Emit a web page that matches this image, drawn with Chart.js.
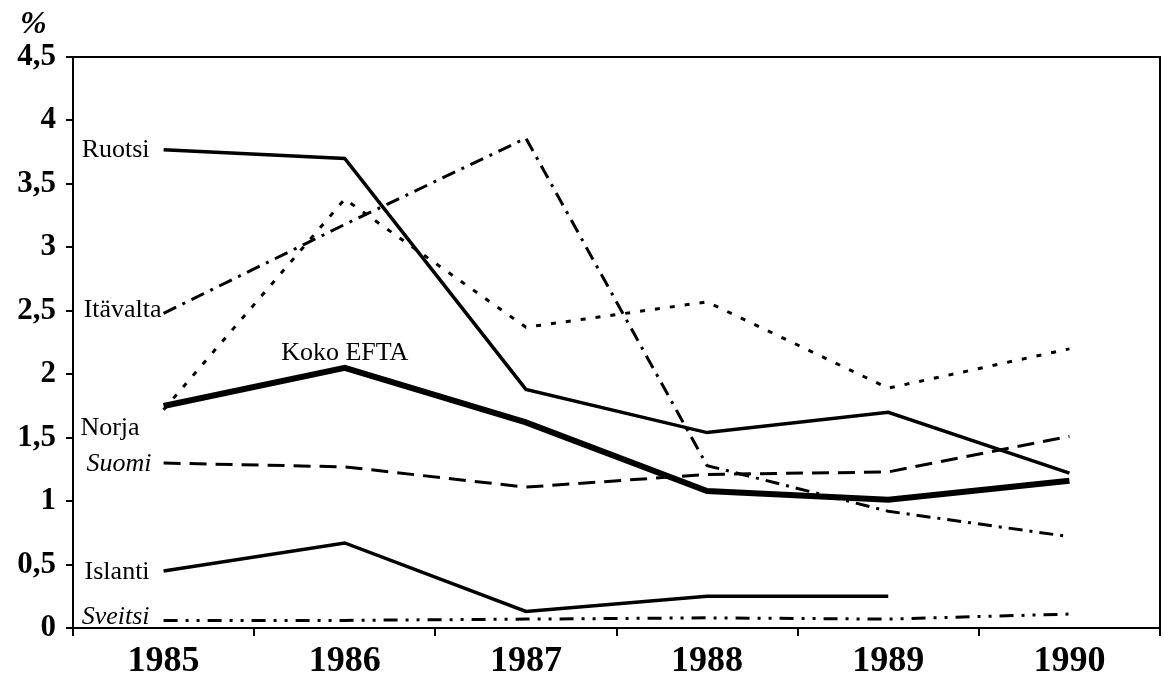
<!DOCTYPE html>
<html lang="fi">
<head>
  <meta charset="UTF-8">
  <title>EFTA-maat 1985-1990</title>
  <script src="https://cdn.jsdelivr.net/npm/chart.js"></script>
<style>
  body { margin: 0; background: #fff; }
  .chart-box { position: relative; width: 1164px; height: 685px; }
</style>
</head>
<body>
  <div class="chart-box">
    <canvas id="eftaChart"></canvas>
  </div>
  <script>
    // Data
    const years = ['1985', '1986', '1987', '1988', '1989', '1990'];
    const ruotsi = [3.77, 3.70, 1.88, 1.54, 1.70, 1.22];
    const itavalta = [2.48, 3.18, 3.86, 1.28, 0.92, 0.72];
    const norja = [1.72, 3.38, 2.37, 2.57, 1.89, 2.20];
    const kokoEfta = [1.75, 2.05, 1.62, 1.08, 1.01, 1.16];
    const suomi = [1.30, 1.27, 1.11, 1.21, 1.23, 1.51];
    const islanti = [0.45, 0.67, 0.13, 0.25, 0.25, null];
    const sveitsi = [0.06, 0.06, 0.07, 0.08, 0.07, 0.11];
    const yTicks = [0, 0.5, 1, 1.5, 2, 2.5, 3, 3.5, 4, 4.5];

    const serif = "'Liberation Serif', 'Times New Roman', serif";

    // Line labels: where each name sits relative to one of its points
    const lineLabels = [
      { text: 'Ruotsi', ds: 0, at: 0, align: 'right', dx: -14, dy: 1 },
      { text: 'Itävalta', ds: 1, at: 0, align: 'right', dx: -2, dy: -3 },
      { text: 'Norja', ds: 2, at: 0, align: 'right', dx: -24, dy: 18 },
      { text: 'Koko EFTA', ds: 3, at: 1, align: 'center', dx: 0, dy: -15 },
      { text: 'Suomi', ds: 4, at: 0, align: 'right', dx: -12, dy: 1, italic: true },
      { text: 'Islanti', ds: 5, at: 0, align: 'right', dx: -14, dy: 1 },
      { text: 'Sveitsi', ds: 6, at: 0, align: 'right', dx: -14, dy: -3, italic: true }
    ];

    const framePlugin = {
      id: 'frame',
      beforeDatasetsDraw(chart) {
        const { ctx, chartArea: a } = chart;
        ctx.save();
        ctx.strokeStyle = '#000';
        ctx.lineWidth = 2;
        ctx.strokeRect(a.left, a.top, a.right - a.left, a.bottom - a.top);
        ctx.restore();
      }
    };

    const labelPlugin = {
      id: 'lineLabels',
      afterDatasetsDraw(chart) {
        const { ctx, scales: { x, y } } = chart;
        ctx.save();
        ctx.fillStyle = '#000';
        ctx.textBaseline = 'middle';
        lineLabels.forEach(l => {
          const v = chart.data.datasets[l.ds].data[l.at];
          const px = x.getPixelForValue(l.at) + l.dx;
          const py = y.getPixelForValue(v) + l.dy;
          ctx.font = (l.italic ? 'italic ' : '') + '26px ' + serif;
          ctx.textAlign = l.align;
          ctx.fillText(l.text, px, py);
        });
        // unit mark above the y axis
        ctx.font = 'bold italic 32px ' + serif;
        ctx.textAlign = 'left';
        ctx.fillText('%', 20, 25);
        ctx.restore();
      }
    };

    function line(label, data, width, dash) {
      return {
        label: label,
        data: data,
        borderColor: '#000',
        borderWidth: width,
        borderDash: dash,
        pointRadius: 0,
        fill: false,
        tension: 0
      };
    }

    Chart.defaults.font.family = serif;
    Chart.defaults.color = '#000';

    new Chart(document.getElementById('eftaChart'), {
      type: 'line',
      data: {
        labels: years,
        datasets: [
          line('Ruotsi', ruotsi, 3.5, []),
          line('Itävalta', itavalta, 3, [14, 7, 3, 7]),
          line('Norja', norja, 3, [5, 10]),
          line('Koko EFTA', kokoEfta, 6, []),
          line('Suomi', suomi, 3, [17, 9]),
          line('Islanti', islanti, 3.5, []),
          line('Sveitsi', sveitsi, 3, [14, 8, 3, 8, 3, 8])
        ]
      },
      options: {
        responsive: true,
        maintainAspectRatio: false,
        animation: false,
        layout: { padding: { top: 57, right: 4, left: 0, bottom: 0 } },
        plugins: {
          legend: { display: false },
          tooltip: { enabled: false }
        },
        scales: {
          x: {
            offset: true,
            grid: { offset: true, drawOnChartArea: false, tickLength: 8, color: '#000', lineWidth: 2 },
            border: { color: '#000', width: 2 },
            ticks: { font: { size: 36, weight: 'bold' }, padding: 4, maxRotation: 0 },
            afterFit(scale) { scale.height = 57; }
          },
          y: {
            min: 0,
            max: 4.5,
            afterBuildTicks(scale) { scale.ticks = yTicks.map(v => ({ value: v })); },
            grid: { drawOnChartArea: false, tickLength: 7, color: '#000', lineWidth: 2 },
            border: { color: '#000', width: 2 },
            ticks: {
              font: { size: 31, weight: 'bold' },
              padding: 10,
              callback: v => String(v).replace('.', ',')
            },
            afterFit(scale) { scale.width = 73; }
          }
        }
      },
      plugins: [framePlugin, labelPlugin]
    });
  </script>
</body>
</html>
